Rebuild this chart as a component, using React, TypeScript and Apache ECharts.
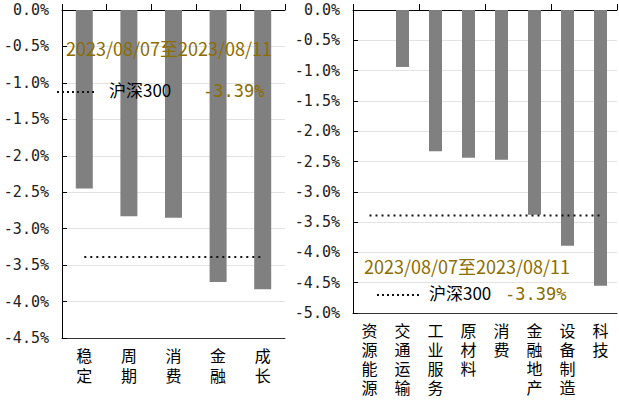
import React, { useEffect, useRef } from "react";
import * as echarts from "echarts";

const leftCategories = ["稳定", "周期", "消费", "金融", "成长"];
const leftValues = [-2.45, -2.83, -2.85, -3.73, -3.83];
const rightCategories = ["资源能源", "交通运输", "工业服务", "原材料", "消费", "金融地产", "设备制造", "科技"];
const rightValues = [0, -0.94, -2.33, -2.44, -2.47, -3.38, -3.89, -4.55];
const benchmark = -3.39;
const benchmarkName = "沪深300";
const periodText = "2023/08/07至2023/08/11";

const OLIVE = "#8c6d00";
const BAR = "#808080";
const GRIDLINE = "#e3e3e3";
const CJK = "Noto Sans CJK SC, DejaVu Sans, sans-serif";
const MONO = "DejaVu Sans Mono, Liberation Mono, monospace";

function vert(s: string) {
  return s.split("").join("\n");
}

export default function App() {
  const ref = useRef<HTMLDivElement>(null);
  useEffect(() => {
    if (!ref.current) return;
    const chart = echarts.init(ref.current, undefined, { renderer: "svg" });
    const yAxisCommon = (gridIndex: number, min: number) => ({
      type: "value" as const,
      gridIndex,
      min,
      max: 0,
      interval: 0.5,
      axisLine: { show: true, lineStyle: { color: "#000", width: 1 } },
      axisTick: { show: true, inside: true, length: 5, lineStyle: { color: "#000" } },
      splitLine: { show: true, lineStyle: { color: GRIDLINE, width: 1 } },
      axisLabel: {
        show: true,
        formatter: (v: number) => "{m|" + v.toFixed(1) + "%}",
        rich: {
          m: { fontFamily: MONO, fontSize: 15, color: "#222" },
        },
        color: "#222",
        fontFamily: MONO,
        fontSize: 15,
        margin: 13,
      },
    });
    const xBottom = (gridIndex: number, data: string[], lh: number) => ({
      type: "category" as const,
      gridIndex,
      data,
      position: "bottom" as const,
      axisLine: { show: true, onZero: false, lineStyle: { color: "#333" } },
      axisTick: { show: false },
      axisLabel: {
        interval: 0,
        formatter: (v: string) => vert(v),
        color: "#000",
        fontFamily: CJK,
        fontSize: 16,
        lineHeight: lh,
        verticalAlign: "top" as const,
        margin: 7,
      },
    });
    const xTop = (gridIndex: number, data: string[]) => ({
      type: "category" as const,
      gridIndex,
      data,
      position: "top" as const,
      axisLine: { show: true, onZero: false, lineStyle: { color: "#000" } },
      axisTick: { show: true, inside: false, length: 6, lineStyle: { color: "#000" } },
      axisLabel: { show: false },
    });
    const dotted = { color: "#111", width: 2, type: [2, 4] as number[] };
    chart.setOption({
      animation: false,
      textStyle: { fontFamily: MONO },
      grid: [
        { left: 62, top: 10, width: 223, height: 328 },
        { left: 353, top: 10, width: 264, height: 303 },
      ],
      xAxis: [
        xBottom(0, leftCategories, 20),
        xTop(0, leftCategories),
        xBottom(1, rightCategories, 19),
        xTop(1, rightCategories),
      ],
      yAxis: [yAxisCommon(0, -4.5), yAxisCommon(1, -5)],
      series: [
        {
          type: "bar",
          xAxisIndex: 0,
          yAxisIndex: 0,
          data: leftValues,
          barWidth: 17,
          itemStyle: { color: BAR },
        },
        {
          type: "line",
          xAxisIndex: 0,
          yAxisIndex: 0,
          data: leftCategories.map(() => benchmark),
          symbol: "none",
          lineStyle: dotted,
          z: 5,
        },
        {
          type: "bar",
          xAxisIndex: 2,
          yAxisIndex: 1,
          data: rightValues,
          barWidth: 13,
          itemStyle: { color: BAR },
        },
        {
          type: "line",
          xAxisIndex: 2,
          yAxisIndex: 1,
          data: rightCategories.map(() => benchmark),
          symbol: "none",
          lineStyle: dotted,
          z: 5,
        },
      ],
      graphic: [
        {
          type: "text",
          left: 66,
          top: 39,
          z: 10,
          style: { text: periodText, fill: OLIVE, font: `18px ${CJK}` },
        },
        {
          type: "line",
          z: 10,
          shape: { x1: 57, y1: 92, x2: 97, y2: 92 },
          style: { stroke: "#111", lineWidth: 2, lineDash: [2, 3] },
        },
        {
          type: "text",
          left: 109,
          top: 81,
          z: 10,
          style: { text: benchmarkName, fill: "#000", font: `17px ${CJK}` },
        },
        {
          type: "text",
          left: 203,
          top: 82,
          z: 10,
          style: { text: benchmark.toFixed(2) + "%", fill: OLIVE, font: `17px ${MONO}` },
        },
        {
          type: "text",
          left: 364,
          top: 257,
          z: 10,
          style: { text: periodText, fill: OLIVE, font: `18px ${CJK}` },
        },
        {
          type: "line",
          z: 10,
          shape: { x1: 377, y1: 295, x2: 422, y2: 295 },
          style: { stroke: "#111", lineWidth: 2, lineDash: [2, 3] },
        },
        {
          type: "text",
          left: 429,
          top: 284,
          z: 10,
          style: { text: benchmarkName, fill: "#000", font: `17px ${CJK}` },
        },
        {
          type: "text",
          left: 505,
          top: 285,
          z: 10,
          style: { text: benchmark.toFixed(2) + "%", fill: OLIVE, font: `17px ${MONO}` },
        },
      ],
    });
    return () => chart.dispose();
  }, []);
  return <div ref={ref} style={{ width: 619, height: 400, position: "absolute", left: 0, top: 0 }} />;
}
